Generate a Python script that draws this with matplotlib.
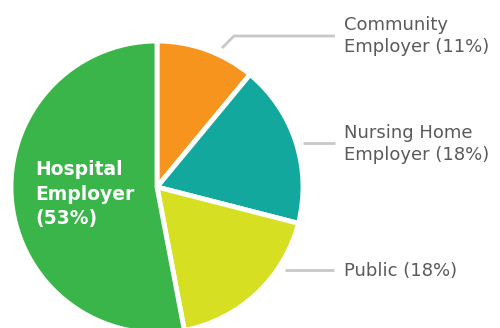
import matplotlib
matplotlib.use("Agg")
import matplotlib.pyplot as plt

# Employer share breakdown
categories = ["Community\nEmployer", "Nursing Home\nEmployer", "Public", "Hospital\nEmployer"]
shares = [11, 18, 18, 53]
colors = ["#F7941D", "#13A89E", "#D7DF23", "#39B54A"]

W, H = 500, 328
fig = plt.figure(figsize=(W / 100, H / 100), dpi=100)
ax = fig.add_axes([0, 0, 1, 1])

cx, cy, r = 157, H - 187, 146
ax.pie(shares, colors=colors, startangle=90, counterclock=False,
       center=(cx, cy), radius=r, frame=True,
       wedgeprops=dict(edgecolor="white", linewidth=3.5))
ax.set_xlim(0, W)
ax.set_ylim(0, H)
ax.set_aspect("equal")
ax.axis("off")

font = ["DejaVu Sans"]
grey = "#5A5A5A"
line_c = "#C8C8C8"

def outer_label(text, pct, xs, ys, tx, ty):
    ax.plot(xs, [H - y for y in ys], color=line_c, lw=2, solid_capstyle="butt")
    ax.text(tx, H - ty, f"{text} ({pct}%)", ha="left", va="center",
            fontsize=13, color=grey, family=font, linespacing=1.3)

outer_label(categories[0], shares[0], [222, 234, 335], [48, 36, 36], 344, 36)
outer_label(categories[1], shares[1], [303, 335], [143, 143], 344, 144)
outer_label(categories[2], shares[2], [285, 334], [270, 270], 344, 271)

ax.text(35, H - 194, f"{categories[3]}\n({shares[3]}%)", ha="left", va="center",
        fontsize=13.5, color="white", fontweight="bold", family=font, linespacing=1.35)

fig.savefig("out.png", dpi=100)
